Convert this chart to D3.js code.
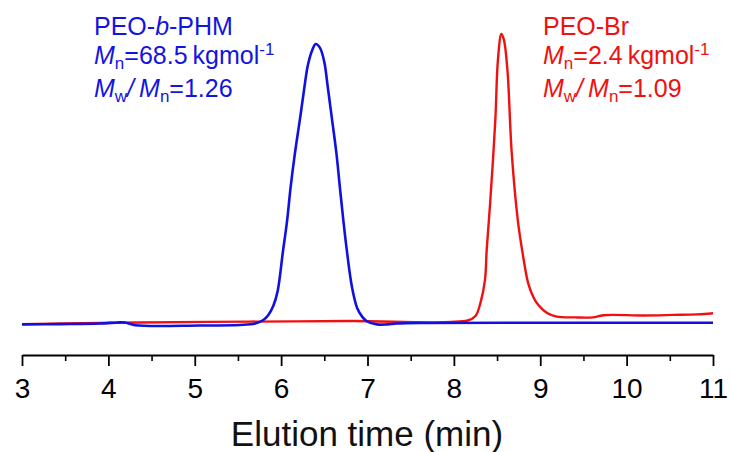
<!DOCTYPE html>
<html>
<head>
<meta charset="utf-8">
<script src="https://cdn.jsdelivr.net/npm/d3@7"></script>
<style>
  body { margin: 0; background: #fff; }
  svg { display: block; font-family: "Liberation Sans", Arial, sans-serif; }
</style>
</head>
<body>
<svg id="gpc-chart" width="731" height="452"></svg>
<script>
// elution time (min) and normalised RI signal
const blueTime = [3.0, 3.44, 3.9, 4.11, 4.19, 4.31, 5.06, 5.52, 5.7, 5.79, 5.85, 5.91, 5.96, 6.02, 6.07, 6.11, 6.16, 6.22, 6.27, 6.31, 6.36, 6.4, 6.45, 6.5, 6.54, 6.59, 6.64, 6.68, 6.72, 6.76, 6.82, 6.88, 6.94, 6.99, 7.11, 7.23, 7.34, 7.61, 9.0, 11.0];
const blueSignal = [-0.005, -0.004, -0.002, 0.002, 0.002, -0.008, -0.009, -0.007, -0.002, 0.01, 0.028, 0.062, 0.115, 0.254, 0.369, 0.487, 0.609, 0.735, 0.846, 0.925, 0.978, 1.0, 0.986, 0.935, 0.846, 0.728, 0.609, 0.487, 0.369, 0.262, 0.129, 0.054, 0.022, 0.007, -0.005, -0.005, -0.002, 0.0, 0.001, 0.001];

const redTime = [3.0, 3.9, 4.37, 5.64, 6.8, 8.16, 8.25, 8.31, 8.36, 8.38, 8.42, 8.48, 8.51, 8.55, 8.58, 8.62, 8.67, 8.74, 8.79, 8.86, 8.92, 8.96, 9.08, 9.19, 9.4, 9.61, 9.73, 10.19, 10.54, 10.82, 11.0];
const redSignal = [-0.004, 0.0, 0.002, 0.005, 0.007, 0.009, 0.025, 0.075, 0.154, 0.262, 0.43, 0.728, 0.943, 1.036, 1.014, 0.907, 0.609, 0.369, 0.262, 0.143, 0.093, 0.072, 0.036, 0.023, 0.02, 0.02, 0.028, 0.027, 0.029, 0.031, 0.035];

const majorTicks = [3, 4, 5, 6, 7, 8, 9, 10, 11];
const minorTicks = [3.5, 4.5, 5.5, 6.5, 7.5, 8.5, 9.5, 10.5];

const svg = d3.select("#gpc-chart");
const axisY = 355;

const x = d3.scaleLinear().domain([3, 11]).range([22, 713]);
const y = d3.scaleLinear().domain([0, 1]).range([323, 44]);

const line = d3.line()
    .x(d => x(d[0]))
    .y(d => y(d[1]))
    .curve(d3.curveCatmullRom.alpha(0.5));

// minor ticks first, then the labelled axis on top
svg.append("g")
    .attr("transform", `translate(0,${axisY})`)
    .call(d3.axisBottom(x).tickValues(minorTicks).tickSize(6).tickSizeOuter(0).tickFormat(""))
    .call(g => g.select(".domain").remove())
    .selectAll("line")
    .attr("stroke", "#000")
    .attr("stroke-width", 1.6);

const xAxis = svg.append("g")
    .attr("transform", `translate(0,${axisY})`)
    .call(d3.axisBottom(x).tickValues(majorTicks).tickSize(11).tickPadding(12).tickSizeOuter(0).tickFormat(d3.format("d")));

xAxis.select(".domain").attr("stroke", "#000").attr("stroke-width", 2);
xAxis.selectAll("line").attr("stroke", "#000").attr("stroke-width", 1.8);
xAxis.selectAll("text")
    .attr("fill", "#000")
    .style("font-size", "28px")
    .style("font-family", "'Liberation Sans', Arial, sans-serif");

svg.append("text")
    .attr("x", 367)
    .attr("y", 446)
    .attr("text-anchor", "middle")
    .style("font-size", "35px")
    .attr("fill", "#111")
    .text("Elution time (min)");

// traces
svg.append("path")
    .datum(d3.zip(redTime, redSignal))
    .attr("fill", "none")
    .attr("stroke", "#f01010")
    .attr("stroke-width", 2.4)
    .attr("stroke-linejoin", "round")
    .attr("d", line);

svg.append("path")
    .datum(d3.zip(blueTime, blueSignal))
    .attr("fill", "none")
    .attr("stroke", "#1010e0")
    .attr("stroke-width", 2.6)
    .attr("stroke-linejoin", "round")
    .attr("d", line);

// annotations
function label(x0, color, name, mn, pdi) {
    const g = svg.append("g").attr("fill", color).style("font-size", "25px");

    const t1 = g.append("text").attr("x", x0).attr("y", 35);
    name.forEach(part => {
        t1.append("tspan").style("font-style", part.italic ? "italic" : "normal").text(part.text);
    });

    const t2 = g.append("text").attr("x", x0).attr("y", 64);
    t2.append("tspan").style("font-style", "italic").text("M");
    t2.append("tspan").attr("dy", 5).style("font-size", "17px").text("n");
    t2.append("tspan").attr("dy", -5).text(`=${mn}\u2009kgmol`);
    t2.append("tspan").attr("dy", -9).style("font-size", "17px").text("-1");

    const t3 = g.append("text").attr("x", x0).attr("y", 97);
    t3.append("tspan").style("font-style", "italic").text("M");
    t3.append("tspan").attr("dy", 5).style("font-size", "17px").text("w");
    t3.append("tspan").attr("dy", -5).style("font-style", "italic").text("/\u2009M");
    t3.append("tspan").attr("dy", 5).style("font-size", "17px").text("n");
    t3.append("tspan").attr("dy", -5).text(`=${pdi}`);
}

label(94, "#1414e0", [{ text: "PEO-" }, { text: "b", italic: true }, { text: "-PHM" }], "68.5", "1.26");
label(543, "#f01010", [{ text: "PEO-Br" }], "2.4", "1.09");
</script>
</body>
</html>
